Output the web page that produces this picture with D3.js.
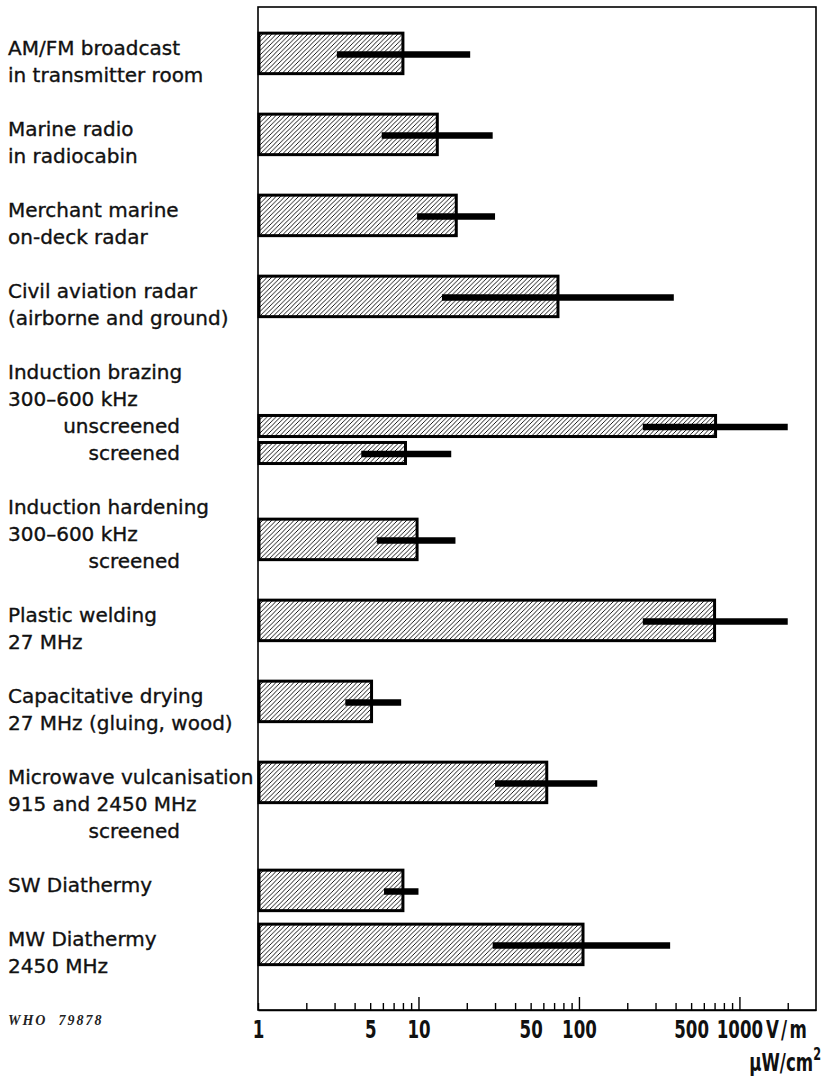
<!DOCTYPE html>
<html>
<head>
<meta charset="utf-8">
<title>Field strengths</title>
<script src="https://cdn.jsdelivr.net/npm/d3@7"></script>
<style>
body { margin: 0; background: #fff; }
.lbl { font-family: "DejaVu Sans", sans-serif; font-size: 20px; fill: #111; stroke: #111; stroke-width: 0.35px; }
.axis text, .unit { font-family: "DejaVu Sans Condensed", "DejaVu Sans", sans-serif; font-weight: bold; font-size: 25px; fill: #111; }
.who { font-family: "Liberation Serif", serif; font-style: italic; font-weight: bold; font-size: 14px; letter-spacing: 2px; fill: #222; }
</style>
</head>
<body>
<script>
// label text, one array of lines per block
var labels = [
  ["AM/FM broadcast", "in transmitter room"],
  ["Marine radio", "in radiocabin"],
  ["Merchant marine", "on-deck radar"],
  ["Civil aviation radar", "(airborne and ground)"],
  ["Induction brazing", "300\u2013600 kHz", "unscreened", "screened"],
  ["Induction hardening", "300\u2013600 kHz", "screened"],
  ["Plastic welding", "27 MHz"],
  ["Capacitative drying", "27 MHz (gluing, wood)"],
  ["Microwave vulcanisation", "915 and 2450 MHz", "screened"],
  ["SW Diathermy"],
  ["MW Diathermy", "2450 MHz"]
];
var subLabels = ["unscreened", "screened"];

// one entry per bar: block it belongs to and which label line it sits on
var barBlock = [0, 1, 2, 3, 4, 4, 5, 6, 7, 8, 9, 10];
var barLine  = [0, 0, 0, 0, 2, 3, 1, 0, 0, 0, 0, 0];

// V/m
var level = [8.0, 13.1, 17.2, 74, 710, 8.3, 9.8, 700, 5.1, 63, 8.0, 106];
var low   = [3.1, 5.9, 9.8, 14, 250, 4.4, 5.5, 250, 3.5, 30, 6.1, 29];
var high  = [21, 29, 30, 390, 2000, 16, 17, 2000, 7.8, 130, 10, 370];

var tickLabels = [1, 5, 10, 50, 100, 500, 1000];

var width = 823, height = 1080;
var plotL = 258, plotR = 816, plotT = 7, plotB = 1010;
var squeeze = "scale(0.74,1)";

var svg = d3.select("body").append("svg")
  .attr("width", width).attr("height", height)
  .style("background", "white");

var x = d3.scaleLog().domain([1, 3000]).range([plotL, plotR]);
// label line index -> y of line centre
var nLines = 0, blockStart = [];
labels.forEach(function(l) { blockStart.push(nLines); nLines += l.length + 1; });
var y = d3.scaleLinear().domain([0, 34]).range([48, 966]);
var step = y(1) - y(0);

var pat = svg.append("defs").append("pattern")
  .attr("id", "hatch").attr("patternUnits", "userSpaceOnUse")
  .attr("width", 4.5).attr("height", 4.5);
pat.append("path")
  .attr("d", "M0,4.5 L4.5,0 M-1,1 L1,-1 M3.5,5.5 L5.5,3.5")
  .attr("stroke", "#000").attr("stroke-width", 0.9);

// frame
svg.append("rect")
  .attr("x", plotL).attr("y", plotT)
  .attr("width", plotR - plotL).attr("height", plotB - plotT)
  .attr("fill", "none").attr("stroke", "#000").attr("stroke-width", 1.6);

// labels
labels.forEach(function(lines, b) {
  svg.selectAll(null).data(lines).enter().append("text")
    .attr("class", "lbl")
    .attr("x", function(d) { return subLabels.indexOf(d) >= 0 ? 180 : 8; })
    .attr("text-anchor", function(d) { return subLabels.indexOf(d) >= 0 ? "end" : "start"; })
    .attr("y", function(d, j) { return y(blockStart[b] + j); })
    .attr("dy", "0.36em")
    .text(function(d) { return d; });
});

// bars
var bars = level.map(function(v, i) {
  var n = barBlock.filter(function(b) { return b === barBlock[i]; }).length;
  var thin = n > 1;
  var cy = y(blockStart[barBlock[i]] + barLine[i] + (thin ? 0 : 0.2));
  var h = thin ? step * 0.78 : step * 1.5;
  return { v: v, lo: low[i], hi: high[i], cy: cy, h: h };
});

svg.selectAll("rect.bar").data(bars).enter().append("rect")
  .attr("class", "bar")
  .attr("x", x(1) + 1)
  .attr("y", function(d) { return d.cy - d.h / 2; })
  .attr("width", function(d) { return x(d.v) - x(1) - 1; })
  .attr("height", function(d) { return d.h; })
  .attr("fill", "url(#hatch)")
  .attr("stroke", "#000").attr("stroke-width", 3);

svg.selectAll("line.range").data(bars).enter().append("line")
  .attr("class", "range")
  .attr("x1", function(d) { return x(d.lo); })
  .attr("x2", function(d) { return x(d.hi); })
  .attr("y1", function(d) { return d.cy + 1; })
  .attr("y2", function(d) { return d.cy + 1; })
  .attr("stroke", "#000").attr("stroke-width", 6.5);

// axis
var allTicks = [];
[1, 10, 100, 1000].forEach(function(dec) {
  for (var k = 1; k <= 9; k++) if (k * dec < 3000) allTicks.push(k * dec);
});
var axis = svg.append("g").attr("class", "axis")
  .attr("transform", "translate(0," + plotB + ")")
  .call(d3.axisBottom(x).tickValues(allTicks).tickSizeInner(-7).tickSizeOuter(0).tickPadding(10)
    .tickFormat(function(d) { return tickLabels.indexOf(d) >= 0 ? d : ""; }));
axis.select(".domain").attr("stroke", "#000").attr("stroke-width", 1.6);
axis.selectAll(".tick text").attr("transform", squeeze);
axis.selectAll(".tick line").attr("stroke-width", 1.4)
  .filter(function(d) { return d === 10 || d === 100 || d === 1000; }).attr("y2", -13);

svg.append("text").attr("class", "unit")
  .attr("transform", "translate(766," + (plotB + 10) + ") " + squeeze)
  .attr("dy", "0.71em")
  .style("letter-spacing", "3px")
  .text("V/m");

var mu = svg.append("text").attr("class", "unit")
  .attr("transform", "translate(821,1071) " + squeeze)
  .attr("text-anchor", "end");
mu.append("tspan").text("\u03bcW/cm");
mu.append("tspan").attr("dy", -11).style("font-size", "17px").text("2");

svg.append("text").attr("class", "who")
  .attr("x", 8).attr("y", 1025)
  .attr("xml:space", "preserve")
  .text("WHO  79878");
</script>
</body>
</html>
